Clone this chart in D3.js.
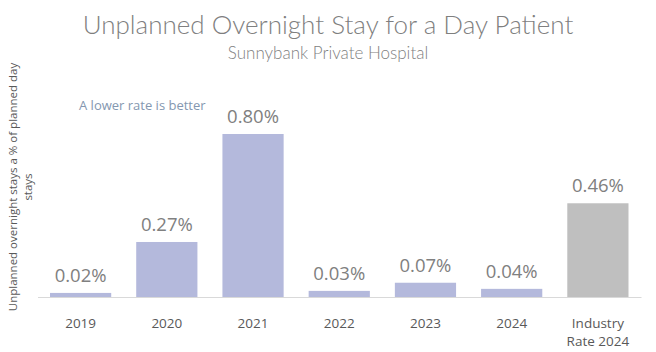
<!DOCTYPE html>
<html>
<head>
<meta charset="utf-8">
<script src="https://cdn.jsdelivr.net/npm/d3@7"></script>
<style>
  body { margin: 0; background: #fff; }
  svg { display: block; }
</style>
</head>
<body>
<div id="chart"></div>
<script>
const categories = ['2019', '2020', '2021', '2022', '2023', '2024', 'Industry|Rate 2024'];
const rates = [0.02, 0.27, 0.80, 0.03, 0.07, 0.04, 0.46];
const barColors = ['#b4b9dc', '#b4b9dc', '#b4b9dc', '#b4b9dc', '#b4b9dc', '#b4b9dc', '#bfbfbf'];

const width = 656, height = 352;
const baseline = 297;

const svg = d3.select('#chart').append('svg')
  .attr('width', width)
  .attr('height', height);

const x = d3.scaleBand()
  .domain(categories)
  .range([37.5, 641])
  .paddingInner(0.29)
  .paddingOuter(0.145);

const y = d3.scaleLinear()
  .domain([0, 0.8])
  .range([baseline, 134]);

// title
svg.append('text')
  .attr('x', 328).attr('y', 34)
  .attr('text-anchor', 'middle')
  .style('font-family', 'Lato, sans-serif')
  .style('font-weight', 300)
  .style('font-size', '26px')
  .style('fill', '#7f7f7f')
  .text('Unplanned Overnight Stay for a Day Patient');

svg.append('text')
  .attr('x', 328).attr('y', 59)
  .attr('text-anchor', 'middle')
  .style('font-family', 'Lato, sans-serif')
  .style('font-weight', 300)
  .style('font-size', '17px')
  .style('fill', '#7f7f7f')
  .text('Sunnybank Private Hospital');

// bars
svg.selectAll('rect.bar')
  .data(rates)
  .enter()
  .append('rect')
  .attr('class', 'bar')
  .attr('x', (d, i) => x(categories[i]))
  .attr('width', x.bandwidth())
  .attr('y', d => y(d))
  .attr('height', d => baseline - y(d))
  .style('fill', (d, i) => barColors[i]);

// value labels
svg.selectAll('text.val')
  .data(rates)
  .enter()
  .append('text')
  .attr('class', 'val')
  .attr('x', (d, i) => x(categories[i]) + x.bandwidth() / 2)
  .attr('y', d => y(d) - 11)
  .attr('text-anchor', 'middle')
  .style('font-family', '"Open Sans", sans-serif')
  .style('font-size', '18.5px')
  .style('fill', '#808080')
  .text(d => d.toFixed(2) + '%');

// x axis
const xAxis = svg.append('g')
  .attr('transform', `translate(0,${baseline})`)
  .call(d3.axisBottom(x).tickSize(0).tickFormat(''));
xAxis.select('.domain').attr('stroke', '#d9d9d9').attr('stroke-width', 1);

const tickLabels = svg.append('g');
categories.forEach(c => {
  const lines = c.split('|');
  const t = tickLabels.append('text')
    .attr('x', x(c) + x.bandwidth() / 2)
    .attr('y', 328)
    .attr('text-anchor', 'middle')
    .style('font-family', '"Open Sans", sans-serif')
    .style('font-size', '13.5px')
    .style('fill', '#595959');
  lines.forEach((l, j) => {
    t.append('tspan')
      .attr('x', x(c) + x.bandwidth() / 2)
      .attr('dy', j === 0 ? 0 : 18)
      .text(l);
  });
});

// y axis title
const yTitle = svg.append('text')
  .attr('transform', 'translate(17,187) rotate(-90)')
  .attr('text-anchor', 'middle')
  .style('font-family', '"Open Sans", sans-serif')
  .style('font-size', '11.5px')
  .style('fill', '#595959');
yTitle.append('tspan').attr('x', 0).attr('dy', 0).text('Unplanned overnight stays a % of planned day');
yTitle.append('tspan').attr('x', 0).attr('dy', 15).text('stays');

// annotation
svg.append('text')
  .attr('x', 79).attr('y', 110)
  .style('font-family', '"Open Sans", sans-serif')
  .style('font-size', '13px')
  .style('fill', '#8497b0')
  .text('A lower rate is better');
</script>
</body>
</html>
